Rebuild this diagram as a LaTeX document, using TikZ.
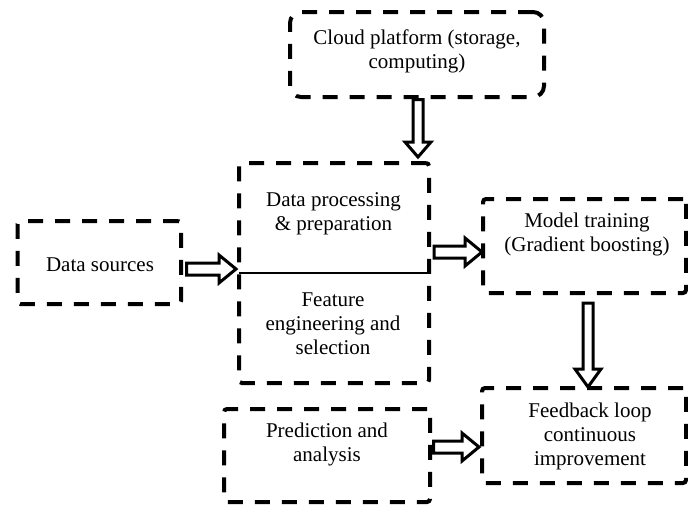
\documentclass[tikz,border=0pt]{standalone}
\usepackage{fontspec}
\setmainfont{Liberation Serif}
\usetikzlibrary{calc}
\tikzset{
  box/.style={draw, line width=4pt, dash pattern=on 15pt off 12pt, rounded corners=3pt,
    inner sep=0pt, outer sep=0pt, anchor=north west},
  cloudbox/.style={box, rounded corners=11pt},
  txt/.style={align=center, inner sep=0pt, font=\fontsize{21}{24}\selectfont},
  hollow/.style={draw, line width=3pt, fill=white, line join=miter},
  divider/.style={draw, line width=2.6pt}
}
\newcommand\hollowH[2]{%
  \path[hollow] let \p1=(#1), \p2=(#2) in
    (\x1,\y1+6pt) -- (\x2-17pt,\y1+6pt) -- (\x2-17pt,\y1+14pt) -- (\x2,\y1)
    -- (\x2-17pt,\y1-14pt) -- (\x2-17pt,\y1-6pt) -- (\x1,\y1-6pt) -- cycle;}
\newcommand\hollowV[3]{%
  \path[hollow] let \p1=(#1), \p2=(#2) in
    (\x1-5pt,\y1) -- (\x1-5pt,\y2+#3) -- (\x1-13pt,\y2+#3) -- (\x1,\y2)
    -- (\x1+13pt,\y2+#3) -- (\x1+5pt,\y2+#3) -- (\x1+5pt,\y1) -- cycle;}
\begin{document}
\begin{tikzpicture}[x=1pt,y=-1pt]
\useasboundingbox (0,0) rectangle (688,504);
% boxes
\node[cloudbox, minimum width=254pt, minimum height=85pt] (cl) at (290,12) {};
\node[box, minimum width=190pt, minimum height=220pt] (dp) at (239,163) {};
\node[box, minimum width=163.5pt, minimum height=83pt] (ds) at (17.5,221) {};
\node[box, minimum width=203pt, minimum height=94pt] (mt) at (483,199) {};
\node[box, minimum width=204pt, minimum height=95pt] (fb) at (482,388) {};
\node[box, minimum width=206pt, minimum height=93pt] (pr) at (224,409) {};
% divider
\coordinate (divy) at (0,273);
\draw[divider] (dp.west |- divy) -- (dp.east |- divy);
% texts
\node[txt] (clT) at (417,51) {Cloud platform (storage,\\computing)};
\node[txt] (dpT) at (333.5,214) {Data processing\\\& preparation};
\node[txt] (feT) at (333,324) {Feature\\engineering and\\selection};
\node[txt] (dsT) at (100,265) {Data sources};
\node[txt] (mtT) at (587,234.5) {Model training\\(Gradient boosting)};
\node[txt] (fbT) at (590,436) {Feedback loop\\continuous\\improvement};
\node[txt] (prT) at (327,444.5) {Prediction and\\analysis};
% arrows
\hollowV{$(cl.south)+(1,2.5)$}{$(dp.north)+(0,-6)$}{15pt}
\hollowV{$(mt.south)+(3.5,10)$}{$(fb.north)+(0,-1)$}{18pt}
\hollowH{$(ds.east)+(5.5,6.5)$}{$(dp.west)+(-3,0)$}
\hollowH{$(dp.east)+(5,-21)$}{$(mt.west)+(-1,0)$}
\hollowH{$(pr.east)+(3.5,-8.5)$}{$(fb.west)+(-3,0)$}
\end{tikzpicture}
\end{document}
